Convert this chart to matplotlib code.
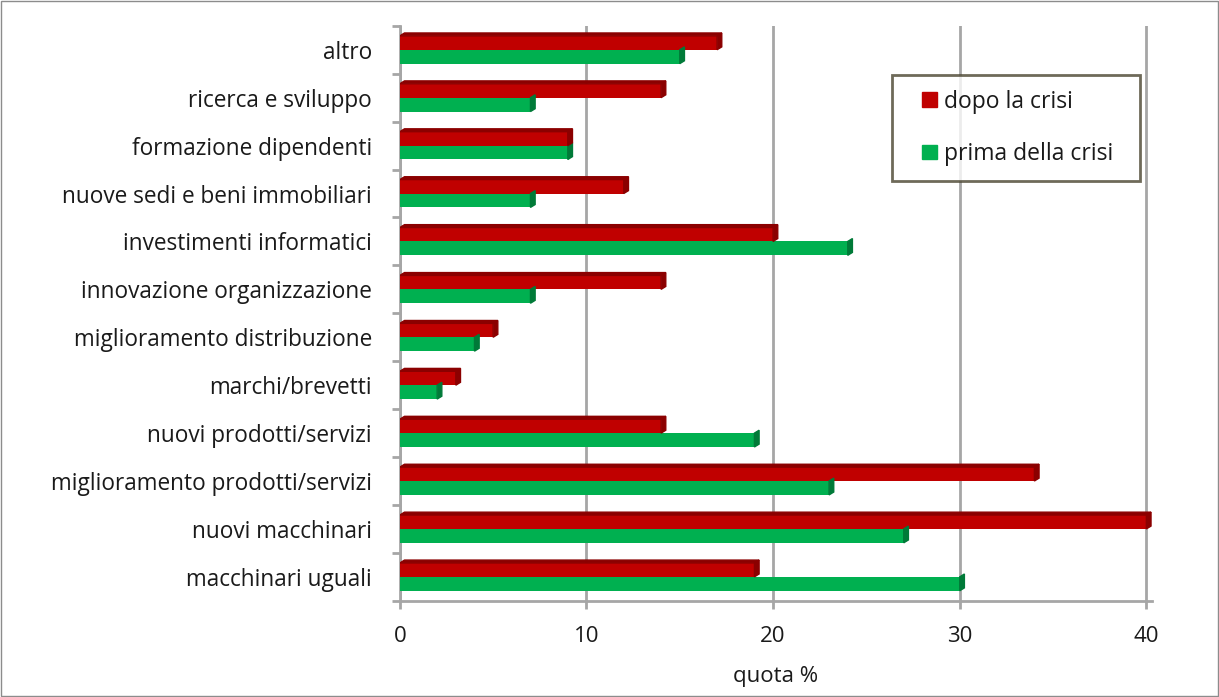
import numpy as np
import matplotlib.pyplot as plt
from matplotlib.patches import Polygon, Rectangle
from matplotlib.legend_handler import HandlerPatch

categories = ['macchinari uguali', 'nuovi macchinari', 'miglioramento prodotti/servizi',
              'nuovi prodotti/servizi', 'marchi/brevetti', 'miglioramento distribuzione',
              'innovazione organizzazione', 'investimenti informatici',
              'nuove sedi e beni immobiliari', 'formazione dipendenti',
              'ricerca e sviluppo', 'altro']
dopo = [19, 40, 34, 14, 3, 5, 14, 20, 12, 9, 14, 17]
prima = [30, 27, 23, 19, 2, 4, 7, 24, 7, 9, 7, 15]

red, red_dark = '#C00000', '#8B0000'
green, green_dark = '#00B050', '#007A38'
grid_col = '#A6A6A6'
txt = '#1A1A1A'

plt.rcParams['font.family'] = ['Open Sans', 'DejaVu Sans']

fig = plt.figure(figsize=(12.19, 6.97), dpi=100)
ax = fig.add_axes([0.328, 0.138, 0.617, 0.825])

y = np.arange(len(categories))
h = 0.29
dx, dy = 0.25, 0.06


def bars3d(vals, offs, col, dark, top=True):
    ax.barh(y + offs, vals, height=h, color=col, zorder=3)
    for yi, v in zip(y + offs, vals):
        # darker end cap (and top face) for the excel-like depth look
        ax.add_patch(Polygon([(v, yi - h / 2), (v + dx, yi - h / 2 + dy),
                              (v + dx, yi + h / 2 + dy), (v, yi + h / 2)],
                             closed=True, color=dark, zorder=4))
        if top:
            ax.add_patch(Polygon([(0, yi + h / 2), (v, yi + h / 2),
                                  (v + dx, yi + h / 2 + dy), (dx, yi + h / 2 + dy)],
                                 closed=True, color=dark, zorder=4))


bars3d(prima, -h / 2, green, green_dark, top=False)
bars3d(dopo, h / 2, red, red_dark)

ax.set_xlim(0, 40.3)
ax.set_ylim(-0.5, 11.5)

ax.set_yticks(y)
ax.set_yticklabels(categories, fontsize=16.3, color=txt)
ax.set_yticks(np.arange(-0.5, 12, 1), minor=True)
ax.tick_params(axis='y', which='major', length=0, pad=20)
ax.tick_params(axis='y', which='minor', length=6, color=grid_col, width=2)

ax.set_xticks([0, 10, 20, 30, 40])
ax.tick_params(axis='x', length=6, color=grid_col, width=2, labelsize=16,
               labelcolor=txt, pad=12)
ax.xaxis.grid(True, color=grid_col, lw=2, zorder=0)
ax.set_axisbelow(True)
ax.set_xlabel('quota %', fontsize=16, color=txt, labelpad=14)

for s in ['top', 'right']:
    ax.spines[s].set_visible(False)
for s in ['left', 'bottom']:
    ax.spines[s].set_color(grid_col)
    ax.spines[s].set_linewidth(2)


def square(legend, orig_handle, xdescent, ydescent, width, height, fontsize):
    # square marker pushed to the right of the handle slot
    return Rectangle((width - height - xdescent, -ydescent), height, height)


handles = [Rectangle((0, 0), 1, 1, color=red), Rectangle((0, 0), 1, 1, color=green)]
leg = ax.legend(handles, ['dopo la crisi', 'prima della crisi  '], loc='upper right',
                bbox_to_anchor=(0.984, 0.915), fontsize=16.5, frameon=True, fancybox=False,
                handlelength=1.3, handleheight=0.6, handletextpad=0.3,
                labelspacing=1.25, borderpad=0.65, borderaxespad=0,
                handler_map={Rectangle: HandlerPatch(patch_func=square)})
leg.get_frame().set_edgecolor('#4A4530')
leg.get_frame().set_linewidth(2)
for t in leg.get_texts():
    t.set_color(txt)

fig.patches.append(Rectangle((0.001, 0.001), 0.998, 0.998, transform=fig.transFigure,
                             fill=False, edgecolor='#8C8C8C', lw=1))

fig.savefig('out.png', dpi=100)
